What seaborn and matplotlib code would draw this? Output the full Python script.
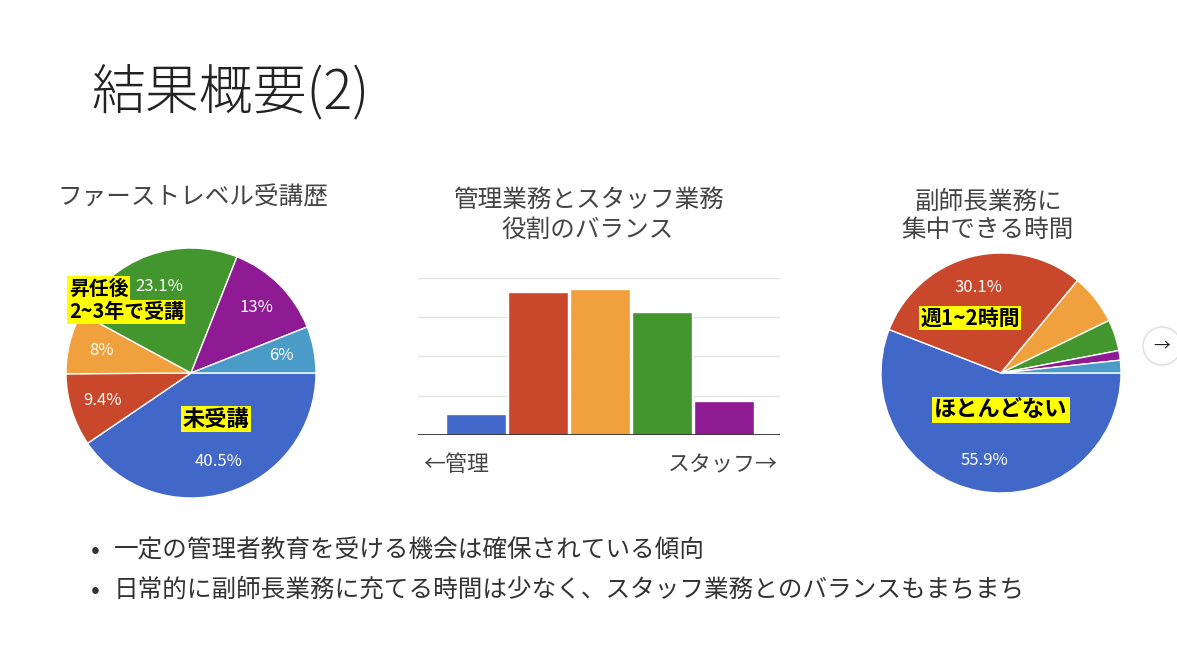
import matplotlib
matplotlib.use("Agg")
import matplotlib.pyplot as plt
import seaborn as sns
import pandas as pd
from matplotlib.patches import Circle

# --- data ---
first_level_labels = ["未受講", "昇任前", "昇任後1年以内", "昇任後2~3年", "昇任後4年以上", "その他"]
first_level_pct = [40.5, 9.4, 8.0, 23.1, 13.0, 6.0]

balance_cats = ["1", "2", "3", "4", "5"]
balance_vals = [5.4, 36.3, 37.0, 31.4, 8.6]

focus_labels = ["ほとんどない", "週1~2時間", "週3~4時間", "週5時間以上", "毎日", "その他"]
focus_pct = [55.9, 30.1, 6.8, 4.2, 1.3, 1.7]

colors = ["#4167C9", "#C9472A", "#F0A03C", "#43962E", "#8E1A94", "#4B9BC8"]

W, H = 1177, 661

sns.set_theme(style="white")
plt.rcParams['font.family'] = ['Noto Sans CJK JP', 'DejaVu Sans']

fig = plt.figure(figsize=(W / 100, H / 100), dpi=100)
fig.patch.set_facecolor("white")


def px_axes(cx, cy, w, h):
    # axes from pixel centre / size (y from top)
    return fig.add_axes([(cx - w / 2) / W, (H - cy - h / 2) / H, w / W, h / H])


def pct_fmt(p, hide_below=0):
    if p < hide_below:
        return ""
    s = f"{p:.1f}".rstrip("0").rstrip(".")
    return s + "%"


# left pie
ax1 = px_axes(191, 373, 250, 250)
ax1.pie(first_level_pct, colors=colors, startangle=0, counterclock=False,
        autopct=lambda p: pct_fmt(p), pctdistance=0.74,
        wedgeprops=dict(edgecolor="white", linewidth=1),
        textprops=dict(color="white", fontsize=12))
ax1.set_xlim(-1, 1)
ax1.set_ylim(-1, 1)

# right pie
ax3 = px_axes(1001, 373, 240, 240)
ax3.pie(focus_pct, colors=colors, startangle=0, counterclock=False,
        autopct=lambda p: pct_fmt(p, hide_below=10), pctdistance=0.74,
        wedgeprops=dict(edgecolor="white", linewidth=1),
        textprops=dict(color="white", fontsize=12))
ax3.set_xlim(-1, 1)
ax3.set_ylim(-1, 1)

# middle bar chart
ax2 = fig.add_axes([418 / W, (H - 435) / H, 362 / W, (435 - 277.7) / H])
df = pd.DataFrame({"cat": balance_cats, "val": balance_vals})
sns.barplot(data=df, x="cat", y="val", hue="cat", palette=colors[:5],
            legend=False, width=0.96, saturation=1, ax=ax2, zorder=3)
ax2.set_xlim(-0.93, 4.9)
ax2.set_ylim(0, 40)
for g in [10, 20, 30, 40]:
    ax2.axhline(g, color="#e4e4e4", linewidth=1, zorder=1)
ax2.axhline(0, color="#333333", linewidth=1.3, zorder=4)
ax2.set_xticks([])
ax2.set_yticks([])
ax2.set_xlabel("")
ax2.set_ylabel("")
for s in ax2.spines.values():
    s.set_visible(False)
ax2.patch.set_alpha(0)

# overlay for slide text
bg = fig.add_axes([0, 0, 1, 1])
bg.set_xlim(0, W)
bg.set_ylim(H, 0)
bg.axis("off")
bg.patch.set_alpha(0)
bg.set_zorder(10)

bg.text(91, 93, "結果概要(2)", fontsize=38.8, color="#222222", ha="left", va="center",
        fontweight="light")

title_kw = dict(fontsize=17.7, color="#444444", ha="center", va="center")
bg.text(193, 197, "ファーストレベル受講歴", **title_kw)
bg.text(589, 200, "管理業務とスタッフ業務", **title_kw)
bg.text(588, 230, "役割のバランス", **title_kw)
bg.text(988, 202, "副師長業務に", **title_kw)
bg.text(988, 230, "集中できる時間", **title_kw)

bg.text(423, 465, "←管理", fontsize=15.8, color="#444444", ha="left", va="center")
bg.text(778, 465, "スタッフ→", fontsize=15.8, color="#444444", ha="right", va="center")

box = dict(facecolor="#FFFF00", edgecolor="none", boxstyle="square,pad=0.08")
note_kw = dict(color="black", fontweight="bold", va="center", bbox=box)
bg.text(69, 288, "昇任後", fontsize=14.3, ha="left", **note_kw)
bg.text(69, 312, "2~3年で受講", fontsize=14.3, ha="left", **note_kw)
bg.text(216, 419, "未受講", fontsize=16, ha="center", **note_kw)
bg.text(970, 318, "週1~2時間", fontsize=15, ha="center", **note_kw)
bg.text(1001, 410, "ほとんどない", fontsize=16, ha="center", **note_kw)

bullets = ["一定の管理者教育を受ける機会は確保されている傾向",
           "日常的に副師長業務に充てる時間は少なく、スタッフ業務とのバランスもまちまち"]
for i, line in enumerate(bullets):
    y = 551 + i * 39
    bg.text(91, y, "•", fontsize=19, color="#333333", ha="left", va="center")
    bg.text(114, y, line, fontsize=17.7, color="#333333", ha="left", va="center")

# slide "next" button
bg.add_patch(Circle((1162, 346), 19, facecolor="white", edgecolor="#dddddd", linewidth=1))
bg.text(1162, 346, "→", fontsize=12, color="#222222", ha="center", va="center")

fig.savefig("out.png", dpi=100, facecolor="white")
